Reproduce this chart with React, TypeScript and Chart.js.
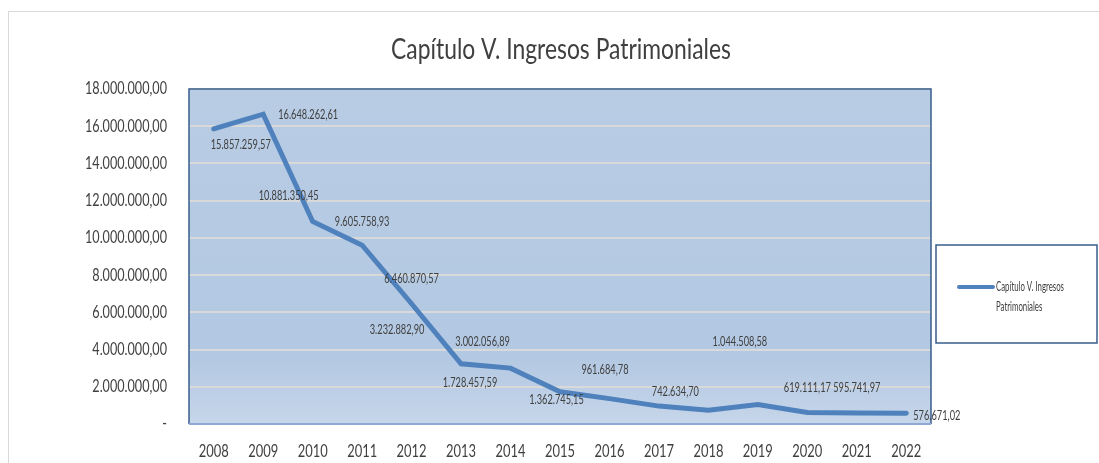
import React, { useEffect, useRef } from "react";
import { Chart, registerables } from "chart.js";

Chart.register(...registerables);

const years = ["2008","2009","2010","2011","2012","2013","2014","2015","2016","2017","2018","2019","2020","2021","2022"];
const ingresos = [15857259.57, 16648262.61, 10881350.45, 9605758.93, 6460870.57, 3232882.90, 3002056.89, 1728457.59, 1362745.15, 961684.78, 742634.70, 1044508.58, 619111.17, 595741.97, 576671.02];
const seriesName = "Capítulo V. Ingresos Patrimoniales";
const legendLines = ["Capítulo V. Ingresos", "Patrimoniales"];
const yTicks = [0, 2000000, 4000000, 6000000, 8000000, 10000000, 12000000, 14000000, 16000000, 18000000];

// label placement offsets (style only)
const labelOffsets: [number, number][] = [
  [27, 16], [45, 1], [-24, -26], [0, -23], [0, -25], [-64, -34], [-28, -26], [-90, -9],
  [-53, 1], [-54, -36], [-33, -18], [-18, -63], [0, -25], [0, -25], [31, 3],
];

const FAM = "Lato, 'Open Sans', sans-serif";
const TXT = "#404040";

const fmt = (v: number, dec = 2) => {
  const s = v.toFixed(dec);
  const [i, d] = s.split(".");
  const ii = i.replace(/\B(?=(\d{3})+(?!\d))/g, ".");
  return d ? ii + "," + d : ii;
};

const fitScale = (ctx: CanvasRenderingContext2D, font: string, ref: string, w: number) => {
  ctx.save();
  ctx.font = font;
  const m = ctx.measureText(ref).width;
  ctx.restore();
  return m > 0 ? w / m : 1;
};

const drawText = (
  ctx: CanvasRenderingContext2D, text: string, x: number, y: number,
  font: string, sx: number, align: CanvasTextAlign, color = TXT,
) => {
  ctx.save();
  ctx.font = font;
  ctx.fillStyle = color;
  ctx.textAlign = align;
  ctx.textBaseline = "middle";
  ctx.translate(x, y);
  ctx.scale(sx, 1);
  ctx.fillText(text, 0, 0);
  ctx.restore();
};

const decor = {
  id: "decor",
  beforeDraw(chart: any) {
    const { ctx, chartArea: a } = chart;
    ctx.save();
    ctx.fillStyle = "#ffffff";
    ctx.fillRect(0, 0, chart.width, chart.height);
    ctx.strokeStyle = "#d9d9d9";
    ctx.lineWidth = 1;
    ctx.strokeRect(8.5, 11.5, chart.width + 10, chart.height);
    const g = ctx.createLinearGradient(0, a.top, 0, a.bottom);
    g.addColorStop(0, "#b8cce4");
    g.addColorStop(0.8, "#b3c8e2");
    g.addColorStop(1, "#c6d6ea");
    ctx.fillStyle = g;
    ctx.fillRect(a.left, a.top, a.right - a.left, a.bottom - a.top);
    ctx.restore();

    // title
    const tf = `28px ${FAM}`;
    drawText(ctx, seriesName, 561, 50, tf, fitScale(ctx, tf, seriesName, 340), "center");
  },
  afterDatasetsDraw(chart: any) {
    const { ctx, chartArea: a } = chart;
    ctx.save();
    ctx.strokeStyle = "#385d8a";
    ctx.lineWidth = 1.5;
    ctx.beginPath();
    ctx.moveTo(a.left, a.bottom);
    ctx.lineTo(a.left, a.top);
    ctx.lineTo(a.right, a.top);
    ctx.lineTo(a.right, a.bottom);
    ctx.stroke();
    ctx.strokeStyle = "#8eaad4";
    ctx.lineWidth = 2;
    ctx.beginPath();
    ctx.moveTo(a.left, a.bottom);
    ctx.lineTo(a.right, a.bottom);
    ctx.stroke();
    ctx.restore();

    // y ticks
    const ys = chart.scales.y;
    const yf = `17px ${FAM}`;
    const ysx = fitScale(ctx, yf, "18.000.000,00", 82);
    yTicks.forEach((v) => {
      const py = ys.getPixelForValue(v);
      drawText(ctx, v === 0 ? "-" : fmt(v), 167, py, yf, ysx, "right");
    });

    // x ticks
    const xs = chart.scales.x;
    const xf = `18px ${FAM}`;
    const xsx = fitScale(ctx, xf, "2008", 30);
    years.forEach((yr, i) => {
      drawText(ctx, yr, xs.getPixelForValue(i), 451, xf, xsx, "center");
    });

    // data labels
    const meta = chart.getDatasetMeta(0);
    const lf = `12.5px ${FAM}`;
    const lsx = fitScale(ctx, lf, "15.857.259,57", 60);
    meta.data.forEach((pt: any, i: number) => {
      const [dx, dy] = labelOffsets[i];
      const txt = fmt(ingresos[i]);
      if (i === ingresos.length - 1) {
        drawText(ctx, txt, pt.x + 7, pt.y + dy, lf, lsx, "left");
      } else {
        drawText(ctx, txt, pt.x + dx, pt.y + dy, lf, lsx, "center");
      }
    });

    // legend
    ctx.save();
    const lx = 936, ly = 245, lw = 161, lh = 98;
    ctx.fillStyle = "#ffffff";
    ctx.fillRect(lx, ly, lw, lh);
    ctx.strokeStyle = "#385d8a";
    ctx.lineWidth = 1.5;
    ctx.strokeRect(lx, ly, lw, lh);
    ctx.strokeStyle = "#4f81bd";
    ctx.lineWidth = 4;
    ctx.lineCap = "round";
    ctx.beginPath();
    ctx.moveTo(959, 287);
    ctx.lineTo(993, 287);
    ctx.stroke();
    ctx.restore();
    const gf = `12.5px ${FAM}`;
    const gsx = fitScale(ctx, gf, legendLines[0], 68);
    drawText(ctx, legendLines[0], 996, 287, gf, gsx, "left");
    drawText(ctx, legendLines[1], 996, 307, gf, gsx, "left");
  },
};

export default function App() {
  const ref = useRef<HTMLCanvasElement | null>(null);
  useEffect(() => {
    if (!ref.current) return;
    const chart = new Chart(ref.current, {
      type: "line",
      data: {
        labels: years,
        datasets: [
          {
            label: seriesName,
            data: ingresos,
            borderColor: "#4f81bd",
            borderWidth: 5,
            pointRadius: 0,
            tension: 0,
            borderCapStyle: "round",
            borderJoinStyle: "miter",
          },
        ],
      },
      options: {
        animation: false,
        responsive: false,
        maintainAspectRatio: false,
        layout: { padding: { left: 0, top: 89, right: 168, bottom: 0 } },
        plugins: { legend: { display: false }, title: { display: false }, tooltip: { enabled: false } },
        scales: {
          x: {
            offset: true,
            grid: { display: false, drawTicks: false },
            border: { display: false },
            ticks: { color: "rgba(0,0,0,0)", font: { size: 17 }, padding: 17, maxRotation: 0 },
            afterFit(s: any) { s.height = 39; },
          },
          y: {
            min: 0,
            max: 18000000,
            afterBuildTicks(s: any) { s.ticks = yTicks.map((v) => ({ value: v })); },
            grid: { color: "#d9d9d9", lineWidth: 2, drawTicks: false },
            border: { display: false },
            ticks: { color: "rgba(0,0,0,0)", font: { size: 17 }, padding: 22 },
            afterFit(s: any) { s.width = 189; },
          },
        },
      },
      plugins: [decor],
    });
    return () => chart.destroy();
  }, []);
  return (
    <div style={{ position: "fixed", left: 0, top: 0, width: 1099, height: 463 }}>
      <canvas ref={ref} width={1099} height={463} style={{ width: 1099, height: 463 }} />
    </div>
  );
}
